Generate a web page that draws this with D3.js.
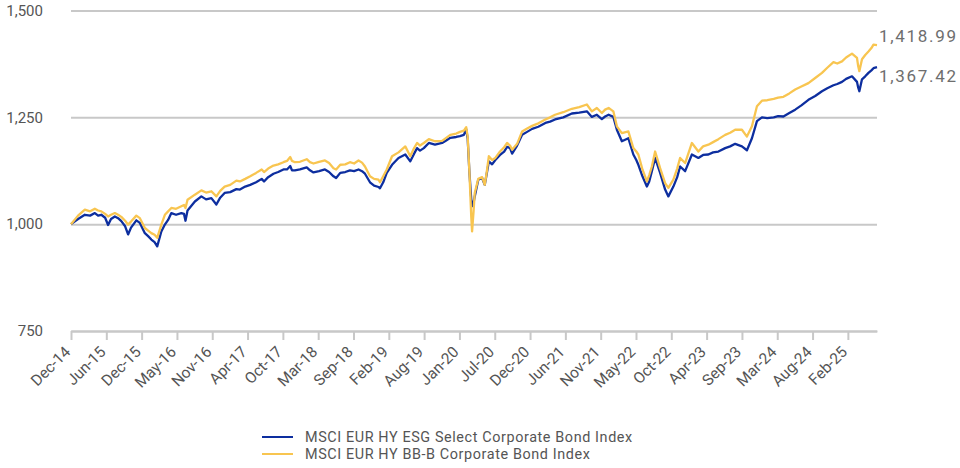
<!DOCTYPE html>
<html>
<head>
<meta charset="utf-8">
<script src="https://cdn.jsdelivr.net/npm/d3@7"></script>
<style>
body { margin: 0; background: #fff; }
svg text { font-family: Roboto, "Noto Sans", sans-serif; }
</style>
</head>
<body>
<div id="chart"></div>
<script>
// x axis: one label every 120 business days
var tickLabels = ["Dec-14","Jun-15","Dec-15","May-16","Nov-16","Apr-17","Oct-17","Mar-18","Sep-18","Feb-19",
    "Aug-19","Jan-20","Jul-20","Dec-20","Jun-21","Nov-21","May-22","Oct-22","Apr-23","Sep-23","Mar-24","Aug-24","Feb-25"];
var tickEvery = 120;
var yTicks = [750, 1000, 1250, 1500];
var seriesNames = ["MSCI EUR HY ESG Select Corporate Bond Index", "MSCI EUR HY BB-B Corporate Bond Index"];

// business day index since Dec-14
var days = [0,24,47,65,81,92,103,116,126,136,149,160,171,184,194,204,222,234,251,262,
    273,284,293,307,319,330,341,357,375,384,389,396,421,443,459,477,494,507,522,541,
    562,574,592,609,629,648,656,670,688,704,722,734,745,751,761,778,801,812,824,843,
    863,877,892,901,915,932,948,962,977,989,999,1016,1030,1045,1050,1061,1073,1091,1113,1136,
    1153,1166,1176,1186,1199,1216,1237,1261,1275,1289,1309,1322,1335,1343,1348,1354,1360,1363,1368,1372,
    1384,1397,1406,1412,1420,1431,1442,1458,1472,1482,1492,1499,1516,1533,1550,1567,1588,1612,1628,1645,
    1673,1702,1727,1753,1770,1787,1804,1815,1827,1843,1855,1872,1894,1911,1921,1928,1942,1957,1965,1974,
    1985,2002,2019,2030,2047,2060,2070,2087,2110,2132,2148,2166,2182,2200,2223,2240,2257,2280,2297,2314,
    2331,2348,2366,2388,2403,2421,2441,2461,2482,2506,2529,2552,2570,2591,2604,2620,2634,2654,2671,2675,
    2679,2688,2699,2710,2720,2727,2739];

var esg = [1000,1012,1022,1020,1026,1020,1022,1015,998,1012,1018,1014,1007,995,976,992,1009,1003,979,972,
    964,958,948,983,999,1010,1026,1022,1026,1024,1008,1032,1053,1065,1058,1061,1046,1062,1073,1075,
    1082,1081,1088,1092,1098,1106,1100,1110,1118,1122,1128,1128,1136,1126,1126,1128,1133,1126,1121,1124,
    1128,1122,1112,1108,1120,1122,1126,1124,1128,1124,1118,1098,1090,1087,1084,1098,1120,1139,1155,1163,
    1147,1165,1178,1172,1178,1190,1186,1190,1196,1202,1204,1206,1209,1222,1200,1120,1060,1042,1050,1065,
    1104,1108,1092,1115,1147,1140,1150,1162,1170,1181,1178,1165,1184,1209,1216,1223,1228,1237,1240,1245,
    1250,1259,1261,1264,1251,1256,1246,1252,1256,1251,1221,1194,1201,1163,1150,1139,1112,1088,1100,1124,
    1155,1120,1081,1065,1088,1110,1135,1124,1163,1155,1162,1163,1168,1170,1178,1182,1188,1182,1173,1201,
    1241,1250,1248,1250,1253,1252,1260,1268,1278,1291,1300,1311,1318,1325,1328,1333,1340,1346,1333,1320,
    1311,1339,1346,1354,1360,1365,1367.42];

var bbb = [1000,1020,1034,1030,1036,1032,1030,1024,1018,1022,1026,1022,1017,1008,999,1006,1020,1014,991,985,
    979,975,968,999,1022,1030,1038,1036,1042,1045,1038,1057,1069,1079,1074,1077,1065,1078,1088,1092,
    1102,1100,1106,1112,1120,1128,1122,1130,1137,1140,1145,1148,1157,1148,1145,1146,1152,1145,1142,1146,
    1149,1143,1131,1128,1139,1140,1145,1142,1149,1144,1135,1112,1106,1104,1098,1112,1128,1159,1168,1182,
    1159,1178,1190,1184,1190,1199,1194,1195,1202,1209,1212,1216,1219,1227,1205,1120,1020,983,1030,1073,
    1106,1110,1092,1118,1159,1150,1155,1170,1180,1190,1184,1174,1188,1217,1224,1230,1236,1245,1250,1256,
    1262,1270,1274,1280,1264,1272,1260,1268,1272,1264,1229,1213,1217,1178,1170,1163,1128,1100,1115,1135,
    1170,1131,1096,1085,1104,1130,1155,1143,1190,1170,1182,1186,1192,1199,1209,1214,1221,1221,1205,1229,
    1276,1289,1290,1293,1296,1298,1306,1315,1322,1330,1342,1354,1366,1379,1376,1381,1390,1399,1389,1370,
    1358,1386,1396,1404,1412,1420,1418.99];

var colors = ["#0d2e9f", "#f8c550"];
var width = 960, height = 468;
var margin = {top: 10.5, right: 83, bottom: 137, left: 71};

var svg = d3.select("#chart").append("svg")
    .attr("width", width)
    .attr("height", height);

var x = d3.scaleLinear()
    .domain([0, d3.max(days)])
    .range([margin.left, width - margin.right]);

var y = d3.scaleLinear()
    .domain([750, 1500])
    .range([height - margin.bottom, margin.top]);

// grille + axe y
var yAxis = svg.append("g")
    .attr("transform", "translate(" + margin.left + ",0)")
    .call(d3.axisLeft(y)
        .tickValues(yTicks)
        .tickSize(-(width - margin.left - margin.right))
        .tickPadding(28)
        .tickFormat(d3.format(",")));
yAxis.select(".domain").remove();
yAxis.selectAll("line")
    .attr("stroke", "#c8c8c8")
    .attr("stroke-width", 2);
yAxis.selectAll("text")
    .attr("fill", "#555")
    .style("font-size", "15px");

// axe x
var xAxis = svg.append("g")
    .attr("transform", "translate(0," + y(750) + ")")
    .call(d3.axisBottom(x)
        .tickValues(d3.range(tickLabels.length).map(function(i) { return i * tickEvery; }))
        .tickSize(9)
        .tickSizeOuter(0)
        .tickFormat(function(d, i) { return tickLabels[i]; }));
xAxis.select(".domain")
    .attr("stroke", "#c8c8c8")
    .attr("stroke-width", 2);
xAxis.selectAll("line")
    .attr("stroke", "#c8c8c8")
    .attr("stroke-width", 2);
xAxis.selectAll("text")
    .attr("fill", "#555")
    .style("font-size", "15.5px")
    .attr("text-anchor", "end")
    .attr("x", 0)
    .attr("y", 0)
    .attr("dy", "0.35em")
    .attr("transform", "translate(-4,18) rotate(-45)");

// courbes
var series = [esg, bbb];
var line = d3.line()
    .x(function(d, i) { return x(days[i]); })
    .y(function(d) { return y(d); });

svg.selectAll(".serie")
    .data(series)
    .enter().append("path")
    .attr("class", "serie")
    .attr("fill", "none")
    .attr("stroke", function(d, i) { return colors[i]; })
    .attr("stroke-width", 2.3)
    .attr("stroke-linejoin", "round")
    .attr("d", line);

// valeurs finales
var endOffset = [9, -9];
svg.selectAll(".endLabel")
    .data(series)
    .enter().append("text")
    .attr("class", "endLabel")
    .attr("x", x(d3.max(days)) + 2)
    .attr("y", function(d, i) { return y(d[d.length - 1]) + endOffset[i]; })
    .attr("dy", "0.35em")
    .attr("fill", "#6e6e6e")
    .style("font-size", "17px")
    .style("letter-spacing", "1.7px")
    .text(function(d) { return d3.format(",.2f")(d[d.length - 1]); });

// légende
var legend = svg.append("g")
    .attr("transform", "translate(262,437)");
var items = legend.selectAll("g")
    .data(seriesNames)
    .enter().append("g")
    .attr("transform", function(d, i) { return "translate(0," + i * 17 + ")"; });
items.append("line")
    .attr("x1", 0).attr("x2", 31)
    .attr("stroke", function(d, i) { return colors[i]; })
    .attr("stroke-width", 2);
items.append("text")
    .attr("x", 43)
    .attr("dy", "0.35em")
    .attr("fill", "#555")
    .style("font-size", "14.4px")
    .style("letter-spacing", "0.6px")
    .text(function(d) { return d; });
</script>
</body>
</html>
